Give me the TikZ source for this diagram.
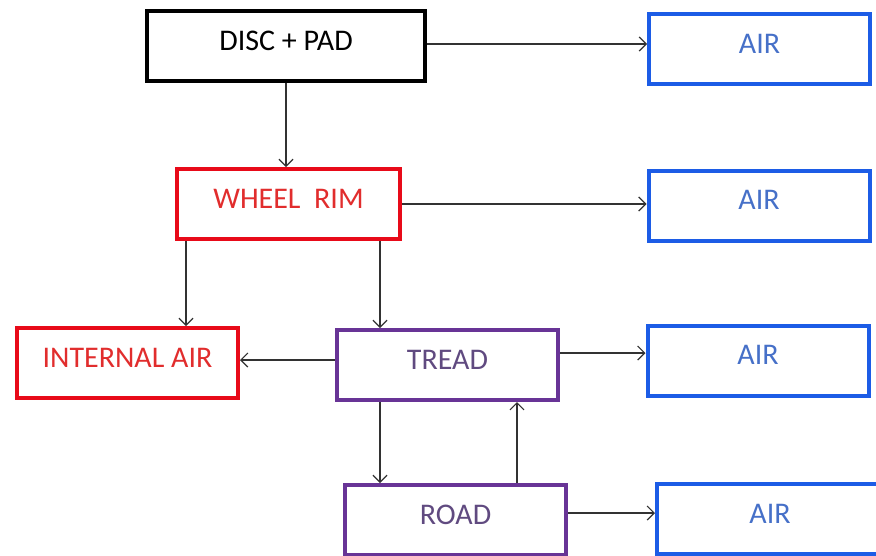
\documentclass[tikz,border=0pt]{standalone}
\usepackage{fontspec}
\setmainfont{Carlito}
\usetikzlibrary{arrows.meta}
\definecolor{bblue}{RGB}{28,92,230}
\definecolor{tblue}{RGB}{70,112,200}
\definecolor{bred}{RGB}{232,10,25}
\definecolor{tred}{RGB}{225,45,45}
\definecolor{bpurp}{RGB}{104,52,150}
\definecolor{tpurp}{RGB}{96,74,128}
\definecolor{lgray}{RGB}{50,50,50}
\tikzset{
  box/.style={draw, rectangle, line width=4pt, minimum width=#1, minimum height=70pt,
    inner sep=0pt, text height=20pt, text depth=12pt, font=\fontsize{30}{32}\selectfont},
  blackbox/.style={box=278pt, draw=black, text=black, line width=4.5pt},
  airbox/.style={box=#1, draw=bblue, text=tblue},
  airbox/.default=221pt,
  redbox/.style={box=#1, draw=bred, text=tred},
  purpbox/.style={box=221pt, draw=bpurp, text=tpurp},
  arr/.style={draw=lgray, line width=1.2pt, -{Straight Barb[length=7pt,width=14pt,line width=1.2pt]}}
}
\begin{document}
\begin{tikzpicture}[x=1pt,y=-1pt]
\useasboundingbox (0,0) rectangle (876,555);
\node[blackbox] (disc) at (286,46) {DISC + PAD};
\node[airbox] (air1) at (759.5,49) {AIR};
\node[redbox=223pt] (rim) at (288.5,204) {WHEEL\ \ RIM};
\node[airbox] (air2) at (759,205.5) {AIR};
\node[redbox=221pt] (int) at (127.5,363) {INTERNAL AIR};
\node[purpbox] (tread) at (447.5,365) {TREAD};
\node[airbox] (air3) at (758,360.5) {AIR};
\node[purpbox] (road) at (455.5,520) {ROAD};
\node[airbox=226pt] (air4) at (770,519) {AIR};

\draw[arr] ([yshift=2pt]disc.east) -- ([yshift=2pt]disc.east -| air1.west);
\draw[arr] (disc.south) -- (disc.south |- rim.north);
\draw[arr] (rim.east) -- (rim.east -| air2.west);
\draw[arr] ([xshift=11pt]rim.south west) -- ([xshift=11pt]rim.south west |- int.north);
\draw[arr] ([xshift=-22pt]rim.south east) -- ([xshift=-22pt]rim.south east |- tread.north);
\draw[arr] ([yshift=5pt]tread.west) -- ([yshift=5pt]tread.west -| int.east);
\draw[arr] ([yshift=12pt]tread.east) -- ([yshift=12pt]tread.east -| air3.west);
\draw[arr] ([xshift=45pt]tread.south west) -- ([xshift=45pt]tread.south west |- road.north);
\draw[arr] ([xshift=-51pt]road.north east) -- ([xshift=-51pt]road.north east |- tread.south);
\draw[arr] ([yshift=7pt]road.east) -- ([yshift=7pt]road.east -| air4.west);
\end{tikzpicture}
\end{document}
